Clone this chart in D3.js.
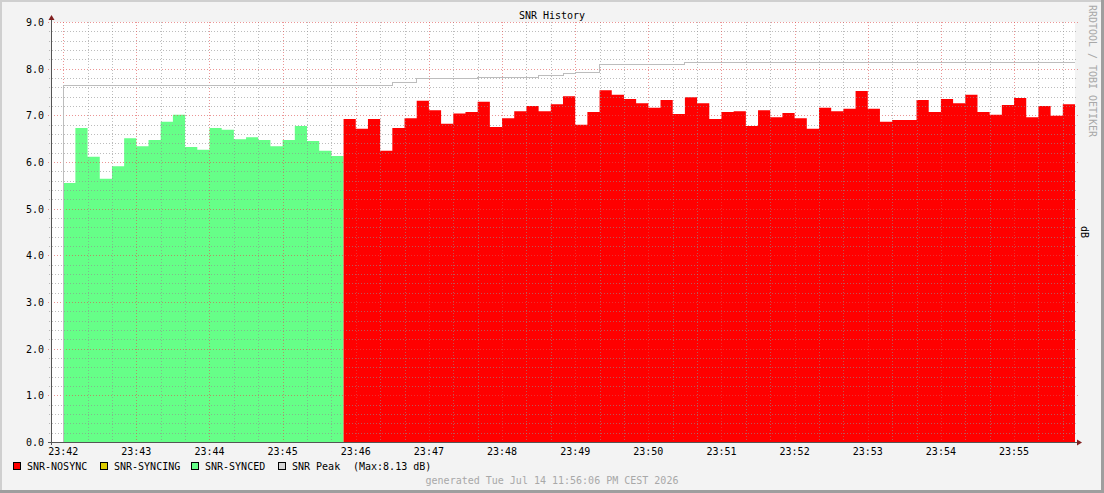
<!DOCTYPE html>
<html>
<head>
<meta charset="utf-8">
<script src="https://cdn.jsdelivr.net/npm/d3@7"></script>
<style>
  html, body { margin: 0; padding: 0; background: #f3f3f3; }
  svg text { font-family: "DejaVu Sans Mono", monospace; font-size: 10px; }
</style>
</head>
<body>
<div id="chart"></div>
<script>
// SNR samples, one every 10 s
const syncedStart = "23:42:00";
const syncedValues = [5.55, 6.73, 6.11, 5.64, 5.91, 6.51, 6.34, 6.47, 6.86, 7.01, 6.32, 6.26,
    6.73, 6.69, 6.49, 6.53, 6.47, 6.34, 6.47, 6.77, 6.45, 6.24, 6.13];
const nosyncStart = "23:45:50";
const nosyncValues = [6.92, 6.71, 6.92, 6.24, 6.73, 6.94, 7.31, 7.11, 6.82, 7.04, 7.07, 7.29,
    6.75, 6.94, 7.09, 7.20, 7.09, 7.24, 7.41, 6.80, 7.07, 7.54, 7.44, 7.35, 7.26, 7.16, 7.33,
    7.03, 7.39, 7.26, 6.92, 7.07, 7.09, 6.77, 7.11, 6.96, 7.05, 6.94, 6.71, 7.16, 7.09, 7.14,
    7.52, 7.14, 6.86, 6.90, 6.90, 7.33, 7.07, 7.35, 7.26, 7.44, 7.07, 7.01, 7.22, 7.37, 6.96,
    7.20, 6.99, 7.24];
const peakTimes = ["23:42:00", "23:46:30", "23:46:50", "23:47:40", "23:48:30", "23:48:50",
    "23:49:00", "23:49:20", "23:50:30", "23:55:50"];
const peakValues = [7.65, 7.70, 7.79, 7.82, 7.85, 7.89, 7.92, 8.09, 8.13, 8.13];
const xTickLabels = ["23:42", "23:43", "23:44", "23:45", "23:46", "23:47", "23:48",
    "23:49", "23:50", "23:51", "23:52", "23:53", "23:54", "23:55"];
const yTicks = [0, 1, 2, 3, 4, 5, 6, 7, 8, 9];
const legendNames = ["SNR-NOSYNC", "SNR-SYNCING", "SNR-SYNCED", "SNR Peak"];
const legendColors = ["#ff0000", "#ddcc00", "#66ff88", "#d4d4d4"];
const peakMaxText = "(Max:8.13 dB)";
const stepSec = 10;

const W = 1104, H = 493;
const margin = {left: 51, right: 29, top: 22, bottom: 51};

function toDate(s) {
    const p = s.split(":").map(Number);
    return new Date(Date.UTC(2026, 6, 14, p[0], p[1], p[2] || 0));
}

function makeSeries(start, vals) {
    const t0 = toDate(start).getTime();
    const pts = vals.map((v, i) => ({t: new Date(t0 + i * stepSec * 1000), v: v}));
    // hold last value until end of its step
    pts.push({t: new Date(t0 + vals.length * stepSec * 1000), v: vals[vals.length - 1]});
    return pts;
}

const svg = d3.select("#chart").append("svg")
    .attr("width", W).attr("height", H);

// frame
svg.append("rect").attr("width", W).attr("height", H).attr("fill", "#f3f3f3");
svg.append("rect").attr("x", 0).attr("y", 0).attr("width", W).attr("height", 2).attr("fill", "#cfcfcf");
svg.append("rect").attr("x", 0).attr("y", 0).attr("width", 2).attr("height", H).attr("fill", "#cfcfcf");
svg.append("rect").attr("x", W - 3).attr("y", 0).attr("width", 3).attr("height", H).attr("fill", "#9e9e9e");
svg.append("rect").attr("x", 0).attr("y", H - 3).attr("width", W).attr("height", 3).attr("fill", "#9e9e9e");

const x = d3.scaleUtc()
    .domain([toDate("23:41:50"), toDate("23:55:50")])
    .range([margin.left, W - margin.right]);
const y = d3.scaleLinear()
    .domain([0, 9])
    .range([H - margin.bottom, margin.top]);

// canvas
svg.append("rect")
    .attr("x", x.range()[0]).attr("y", y(9))
    .attr("width", x.range()[1] - x.range()[0]).attr("height", y(0) - y(9))
    .attr("fill", "#ffffff");

const area = d3.area()
    .x(d => x(d.t))
    .y0(y(0))
    .y1(d => y(d.v))
    .curve(d3.curveStepAfter);

svg.append("path")
    .datum(makeSeries(syncedStart, syncedValues))
    .attr("d", area)
    .attr("fill", legendColors[2]);

svg.append("path")
    .datum(makeSeries(nosyncStart, nosyncValues))
    .attr("d", area)
    .attr("fill", legendColors[0]);

// grid on top of the areas
const minorCol = "rgba(143,143,143,0.6)", majorCol = "rgba(222,79,79,0.6)";
const grid = svg.append("g").attr("shape-rendering", "crispEdges");
const minorX = d3.utcSecond.every(20).range(toDate("23:42:00"), toDate("23:55:50"));
const minorY = d3.range(1, 45).map(i => i * 0.2).filter(v => Math.abs(v - Math.round(v)) > 1e-6);

grid.selectAll(".mx").data(minorX.filter(d => d.getUTCSeconds() !== 0)).join("line")
    .attr("x1", d => Math.round(x(d)) + 0.5).attr("x2", d => Math.round(x(d)) + 0.5)
    .attr("y1", y(9)).attr("y2", y(0) + 2)
    .attr("stroke", minorCol).attr("stroke-dasharray", "1,2");
grid.selectAll(".my").data(minorY).join("line")
    .attr("x1", x.range()[0] - 2).attr("x2", x.range()[1] + 2)
    .attr("y1", d => Math.round(y(d)) + 0.5).attr("y2", d => Math.round(y(d)) + 0.5)
    .attr("stroke", minorCol).attr("stroke-dasharray", "1,2");

const majorX = xTickLabels.map(s => toDate(s + ":00"));
grid.selectAll(".Mx").data(majorX).join("line")
    .attr("x1", d => Math.round(x(d)) + 0.5).attr("x2", d => Math.round(x(d)) + 0.5)
    .attr("y1", y(9)).attr("y2", y(0) + 3)
    .attr("stroke", majorCol).attr("stroke-dasharray", "1,2");
grid.selectAll(".My").data(yTicks).join("line")
    .attr("x1", x.range()[0] - 3).attr("x2", x.range()[1] + 3)
    .attr("y1", d => Math.round(y(d)) + 0.5).attr("y2", d => Math.round(y(d)) + 0.5)
    .attr("stroke", majorCol).attr("stroke-dasharray", "1,2");

// peak line
const peakPts = [{t: toDate(peakTimes[0]), v: 0}]
    .concat(peakTimes.map((s, i) => ({t: toDate(s), v: peakValues[i]})));
svg.append("path")
    .datum(peakPts)
    .attr("d", d3.line().x(d => x(d.t)).y(d => y(d.v)).curve(d3.curveStepAfter))
    .attr("fill", "none")
    .attr("stroke", "#bdbdbd")
    .attr("stroke-width", 1)
    .attr("shape-rendering", "crispEdges");

// axes
const axisCol = "#555555", arrowCol = "#801f1f";
svg.append("line")
    .attr("x1", x.range()[0] - 3).attr("x2", x.range()[1] + 2)
    .attr("y1", y(0) + 0.5).attr("y2", y(0) + 0.5)
    .attr("stroke", axisCol).attr("shape-rendering", "crispEdges");
svg.append("line")
    .attr("x1", x.range()[0] + 0.5).attr("x2", x.range()[0] + 0.5)
    .attr("y1", y(0) + 3).attr("y2", y(9) - 2)
    .attr("stroke", axisCol).attr("shape-rendering", "crispEdges");
const ax = x.range()[1] + 2, ay = y(0) + 0.5;
svg.append("path")
    .attr("d", `M${ax},${ay - 3}L${ax + 5},${ay}L${ax},${ay + 3}Z`)
    .attr("fill", arrowCol);
const bx = x.range()[0] + 0.5, by = y(9) - 2;
svg.append("path")
    .attr("d", `M${bx - 3},${by}L${bx},${by - 5}L${bx + 3},${by}Z`)
    .attr("fill", arrowCol);

// tick labels
svg.selectAll(".xl").data(majorX).join("text")
    .attr("x", d => x(d)).attr("y", y(0) + 13)
    .attr("text-anchor", "middle").attr("fill", "#000")
    .text((d, i) => xTickLabels[i]);
svg.selectAll(".yl").data(yTicks).join("text")
    .attr("x", 44).attr("y", d => y(d) + 4)
    .attr("text-anchor", "end").attr("fill", "#000")
    .text(d => d.toFixed(1));

// title
svg.append("text")
    .attr("x", W / 2).attr("y", 19)
    .attr("text-anchor", "middle").attr("fill", "#000")
    .text("SNR History");

// vertical label and watermark
svg.append("text")
    .attr("transform", `translate(1081,${(y(0) + y(9)) / 2}) rotate(90)`)
    .attr("text-anchor", "middle").attr("fill", "#000")
    .text("dB");
svg.append("text")
    .attr("transform", "translate(1089,5) rotate(90)")
    .attr("text-anchor", "start").attr("fill", "#a8a8a8")
    .attr("textLength", 132)
    .text("RRDTOOL / TOBI OETIKER");

// legend
const legendX = [13, 100, 191, 278];
const lg = svg.append("g");
legendNames.forEach((name, i) => {
    lg.append("rect")
        .attr("x", legendX[i] + 0.5).attr("y", 462.5)
        .attr("width", 7).attr("height", 7)
        .attr("fill", legendColors[i]).attr("stroke", "#000");
    lg.append("text")
        .attr("x", legendX[i] + 14).attr("y", 470)
        .attr("fill", "#000")
        .text(name);
});
lg.append("text").attr("x", 353).attr("y", 470).attr("fill", "#000").text(peakMaxText);

svg.append("text")
    .attr("x", W / 2).attr("y", 484)
    .attr("text-anchor", "middle").attr("fill", "#a8a8a8")
    .text("generated Tue Jul 14 11:56:06 PM CEST 2026");
</script>
</body>
</html>
